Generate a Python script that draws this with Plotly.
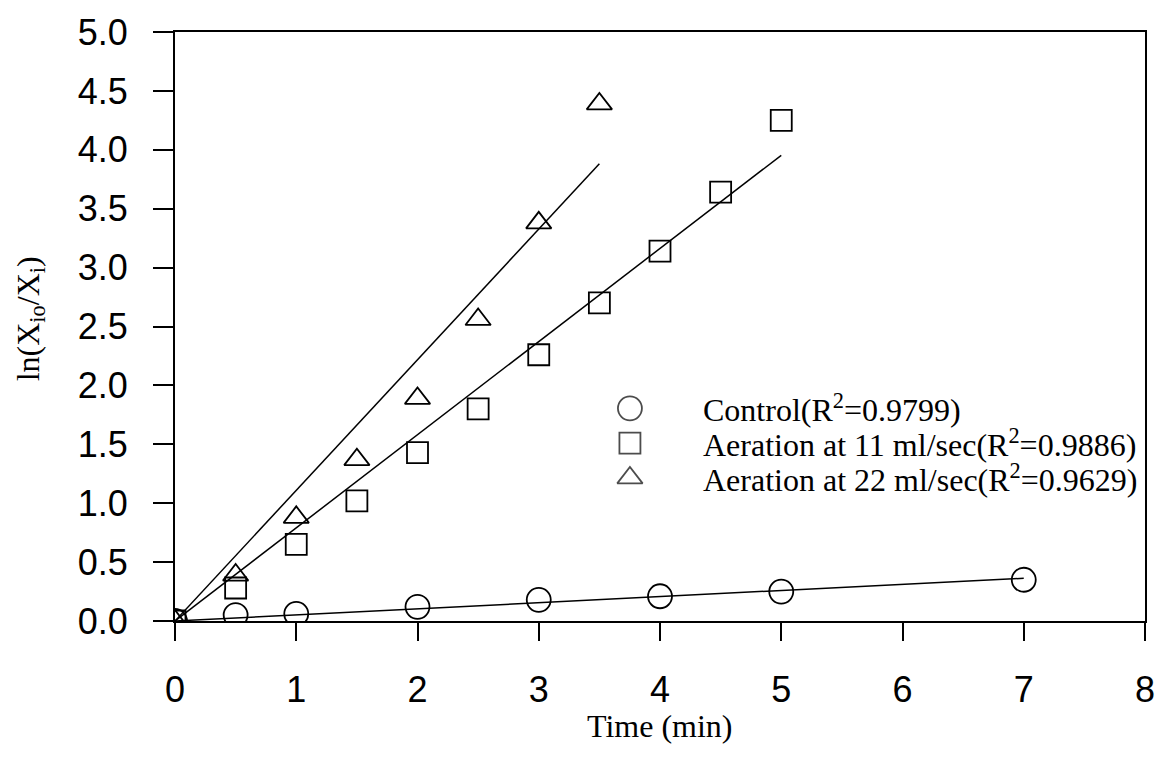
import numpy as np
import plotly.graph_objects as go

# Measured ln(Xio/Xi) against time (min)
time_control = [0, 0.5, 1, 2, 3, 4, 5, 7]
ln_control = [0.0, 0.05, 0.06, 0.12, 0.18, 0.21, 0.25, 0.35]

time_air11 = [0, 0.5, 1, 1.5, 2, 2.5, 3, 3.5, 4, 4.5, 5]
ln_air11 = [0.0, 0.28, 0.65, 1.02, 1.43, 1.80, 2.26, 2.70, 3.14, 3.64, 4.25]

time_air22 = [0, 0.5, 1, 1.5, 2, 2.5, 3, 3.5]
ln_air22 = [0.0, 0.39, 0.88, 1.37, 1.89, 2.56, 3.38, 4.39]

series_labels = [
    "Control(R<sup>2</sup>=0.9799)",
    "Aeration at 11 ml/sec(R<sup>2</sup>=0.9886)",
    "Aeration at 22 ml/sec(R<sup>2</sup>=0.9629)",
]
x_ticks = [0, 1, 2, 3, 4, 5, 6, 7, 8]
y_ticks = [0, 0.5, 1, 1.5, 2, 2.5, 3, 3.5, 4, 4.5, 5]
y_tick_labels = ["0.0", "0.5", "1.0", "1.5", "2.0", "2.5", "3.0", "3.5", "4.0", "4.5", "5.0"]

series = [
    (time_control, ln_control, "circle-open", 24),
    (time_air11, ln_air11, "square-open", 21),
    (time_air22, ln_air22, "triangle-up-open", 22),
]

fig = go.Figure()

# first-order fits through the origin
for t, v, _, _ in series:
    t = np.asarray(t, float)
    v = np.asarray(v, float)
    k = float((t * v).sum() / (t * t).sum())
    xs = [0.0, float(t.max())]
    fig.add_trace(go.Scatter(
        x=xs, y=[k * x for x in xs], mode="lines",
        line=dict(color="black", width=1.5), showlegend=False, hoverinfo="skip",
    ))

for t, v, sym, sz in series:
    fig.add_trace(go.Scatter(
        x=t, y=v, mode="markers", showlegend=False,
        marker=dict(symbol=sym, size=sz, color="black", line=dict(width=1.8)),
    ))

# key drawn inside the plotting area
key_x = 0.469
key_text_x = 0.542
key_rows = [0.361, 0.302, 0.243]
fig.add_trace(go.Scatter(
    x=[key_x] * 3, y=key_rows, mode="markers", showlegend=False,
    xaxis="x2", yaxis="y2", hoverinfo="skip",
    marker=dict(symbol=[s[2] for s in series], size=[s[3] for s in series],
                color="black", line=dict(width=1.8)),
))
annotations = []
for lab, yy in zip(series_labels, key_rows):
    annotations.append(dict(
        text=lab, x=key_text_x, y=yy, xref="paper", yref="paper",
        xanchor="left", yanchor="middle", showarrow=False,
        font=dict(family="Liberation Serif", size=32, color="black"),
    ))
annotations.append(dict(
    text="Time (min)", x=0.5, y=-0.179, xref="paper", yref="paper",
    xanchor="center", yanchor="middle", showarrow=False,
    font=dict(family="Liberation Serif", size=32, color="black"),
))
annotations.append(dict(
    text="ln(X<sub>io</sub>/X<sub>i</sub>)", x=-0.149, y=0.513,
    xref="paper", yref="paper", textangle=-90,
    xanchor="center", yanchor="middle", showarrow=False,
    font=dict(family="Liberation Serif", size=32, color="black"),
))

axis_common = dict(
    showgrid=False, zeroline=False, showline=True, linecolor="black",
    linewidth=2, mirror=True, ticks="outside", tickcolor="black",
    tickwidth=2, tickfont=dict(family="Liberation Sans", size=36, color="black"),
)

fig.update_layout(
    width=1167, height=769,
    margin=dict(l=175, r=18, t=28, b=148),
    paper_bgcolor="white", plot_bgcolor="white",
    showlegend=False,
    xaxis=dict(range=[0, 8], tickvals=x_ticks, ticklen=18,
               ticklabelstandoff=18, **axis_common),
    yaxis=dict(range=[0, 5], tickvals=y_ticks, ticktext=y_tick_labels,
               ticklen=20, ticklabelstandoff=18, **axis_common),
    xaxis2=dict(range=[0, 1], overlaying="x", visible=False),
    yaxis2=dict(range=[0, 1], overlaying="y", visible=False),
    annotations=annotations,
)

fig.write_html("out.html")
